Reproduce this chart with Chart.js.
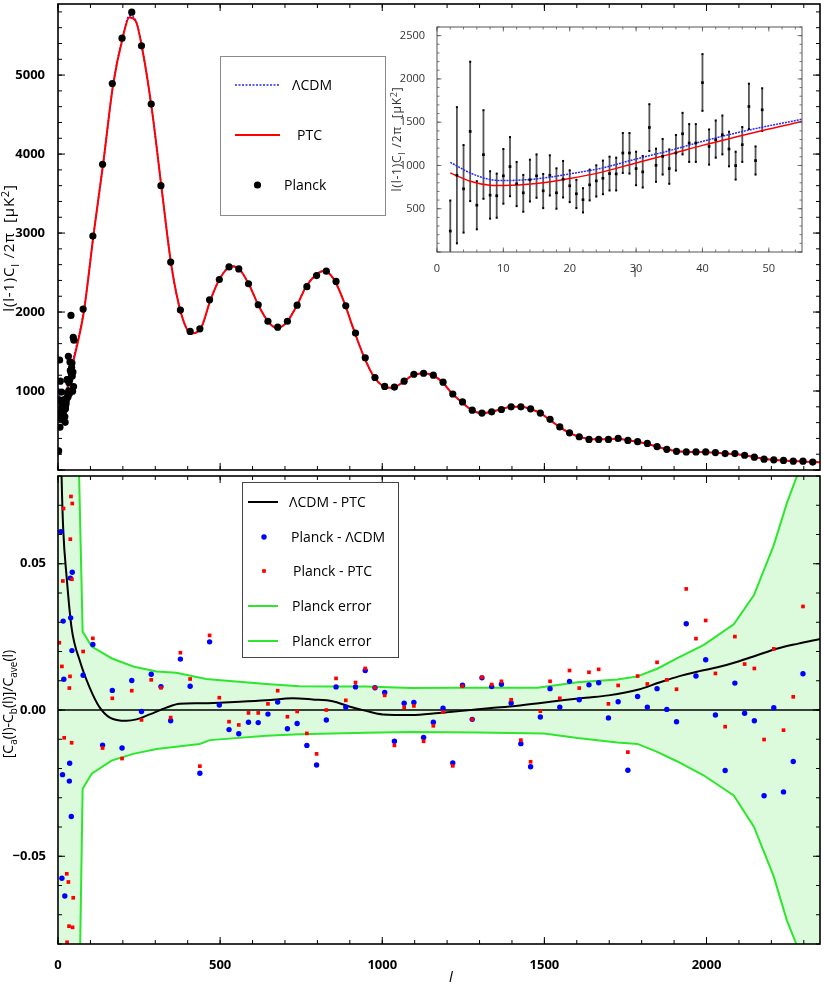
<!DOCTYPE html>
<html>
<head>
<meta charset="utf-8">
<script src="https://cdn.jsdelivr.net/npm/chart.js@4.4.1/dist/chart.umd.min.js"></script>
<style>
  body { margin: 0; background: #fff; }
  #wrap { position: relative; width: 824px; height: 989px; }
  canvas { position: absolute; }
</style>
</head>
<body>
<div id="wrap">
  <canvas id="topChart" width="824" height="474" style="left:0;top:0"></canvas>
  <canvas id="bottomChart" width="824" height="517" style="left:0;top:472px"></canvas>
  <canvas id="insetChart" width="424" height="262" style="left:385px;top:20px"></canvas>
</div>
<script>
// ---- data ----
// tick labels
const xTicks = [0, 500, 1000, 1500, 2000];
const topYTicks = [1000, 2000, 3000, 4000, 5000];
const bottomYTicks = [-0.05, 0, 0.05];
const insetXTicks = [0, 10, 20, 30, 40, 50];
const insetYTicks = [500, 1000, 1500, 2000, 2500];

// unbinned low multipoles (also shown in the inset)
const lowL = [2, 3, 4, 5, 6, 7, 8, 9, 10, 11, 12, 13, 14, 15, 16, 17, 18, 19, 20, 21, 22, 23, 24, 25,
  26, 27, 28, 29, 30, 31, 32, 33, 34, 35, 36, 37, 38, 39, 40, 41, 42, 43, 44, 45, 46, 47, 48, 49];
const lowV = [242, 887, 730, 1393, 541, 1125, 657, 650, 880, 987, 788, 684, 834, 880, 707, 887, 684, 841, 765, 673, 604, 776, 822, 852,
  906, 902, 1144, 1144, 964, 926, 1439, 1002, 1105, 964, 1144, 1366, 1259, 1259, 1957, 1220, 1297, 1355, 1190, 998, 1240, 1681, 1056, 1643];
const lowHi = [595, 1674, 1236, 2199, 818, 1639, 933, 906, 1190, 1328, 1041, 891, 1067, 1128, 902, 1117, 967, 1052, 944, 834, 737, 952, 1002, 1056,
  1102, 1090, 1375, 1375, 1159, 1110, 1708, 1194, 1306, 1186, 1352, 1608, 1478, 1478, 2287, 1416, 1520, 1577, 1390, 1159, 1444, 1945, 1220, 1892];
const lowLo = [-50, 100, 224, 588, 262, 615, 385, 396, 558, 645, 530, 465, 584, 627, 507, 653, 500, 630, 576, 507, 457, 596, 641, 668,
  711, 711, 914, 906, 772, 745, 1167, 811, 895, 788, 941, 1128, 1041, 1041, 1631, 1010, 1090, 1128, 990, 837, 1041, 1421, 895, 1398];

// binned high multipoles
const binL = [77.5, 107.5, 137.5, 167.5, 197.5, 227.5, 257.5, 287.5, 317.5, 347.5, 377.5, 407.5, 437.5, 467.5, 497.5, 527.5,
  557.5, 587.5, 617.5, 647.5, 677.5, 707.5, 737.5, 767.5, 797.5, 827.5, 857.5, 887.5, 917.5, 947.5, 977.5, 1007.5,
  1037.5, 1067.5, 1097.5, 1127.5, 1157.5, 1187.5, 1217.5, 1247.5, 1277.5, 1307.5, 1337.5, 1367.5, 1397.5, 1427.5,
  1457.5, 1487.5, 1517.5, 1547.5, 1577.5, 1607.5, 1637.5, 1667.5, 1697.5, 1727.5, 1757.5, 1787.5, 1817.5, 1847.5,
  1877.5, 1907.5, 1937.5, 1967.5, 1997.5, 2027.5, 2057.5, 2087.5, 2117.5, 2147.5, 2177.5, 2207.5, 2237.5, 2267.5,
  2297.5, 2327.5];
const binV = [2037, 2962, 3871, 4892, 5467, 5796, 5371, 4633, 3600, 2633, 2025, 1754, 1787, 2154, 2412, 2571,
  2546, 2358, 2092, 1883, 1808, 1883, 2087, 2321, 2462, 2517, 2387, 2079, 1733, 1421, 1171, 1058,
  1050, 1125, 1212, 1225, 1200, 1112, 962, 862, 758, 721, 737, 766, 800, 800,
  775, 721, 641, 546, 471, 421, 387, 387, 387, 400, 375, 358, 337, 296,
  262, 237, 229, 229, 229, 221, 208, 208, 187, 162, 137, 129, 121, 112,
  112, 100];

// model spectra
const thL = [2, 5, 8, 10, 15, 20, 25, 30, 35, 40, 45, 50, 55, 80, 110, 140, 170, 200, 220, 240, 260, 290, 320,
  350, 380, 410, 440, 470, 500, 535, 560, 590, 620, 650, 675, 705, 735, 765, 795, 820, 850, 880, 910,
  940, 970, 1000, 1030, 1060, 1090, 1125, 1155, 1185, 1215, 1245, 1275, 1305, 1335, 1365, 1400, 1430, 1455, 1485, 1515,
  1545, 1575, 1605, 1635, 1665, 1695, 1725, 1755, 1785, 1815, 1845, 1875, 1905, 1935, 1965, 1995, 2025, 2055, 2085, 2115,
  2145, 2175, 2205, 2235, 2265, 2295, 2325, 2350];
const thPtc = [914, 818, 772, 768, 791, 849, 926, 1029, 1128, 1232, 1328, 1421, 1508, 2010, 2990, 3900, 4880, 5480, 5730, 5680, 5330, 4550, 3550,
  2580, 1980, 1730, 1790, 2150, 2430, 2580, 2540, 2340, 2070, 1870, 1800, 1870, 2070, 2320, 2470, 2520, 2420, 2150, 1800,
  1470, 1210, 1070, 1040, 1100, 1190, 1225, 1200, 1115, 970, 860, 760, 720, 735, 770, 800, 800, 775, 725, 640,
  550, 475, 422, 395, 388, 390, 395, 380, 358, 335, 298, 265, 240, 230, 228, 226, 220, 210, 203, 188,
  165, 142, 128, 120, 113, 108, 102, 98];
const thLcdm = [1036, 914, 837, 826, 845, 902, 972, 1075, 1171, 1278, 1374, 1458, 1535, 2030, 2995, 3900, 4880, 5490, 5750, 5690, 5330, 4550, 3550,
  2580, 1980, 1730, 1790, 2150, 2430, 2585, 2540, 2340, 2070, 1870, 1800, 1870, 2070, 2320, 2470, 2520, 2420, 2150, 1800,
  1470, 1210, 1070, 1040, 1100, 1190, 1225, 1200, 1115, 970, 860, 760, 720, 735, 770, 800, 800, 775, 725, 640,
  550, 475, 422, 395, 388, 390, 395, 380, 358, 335, 298, 265, 240, 230, 228, 226, 220, 210, 203, 188,
  165, 142, 128, 120, 113, 108, 102, 98];

// relative differences (bottom panel)
const diffL = [2, 6, 11, 16, 27, 42, 68, 98, 129, 160, 211, 242, 283, 334, 375, 437, 498, 560, 642, 724,
  785, 847, 898, 950, 1001, 1090, 1175, 1247, 1329, 1411, 1483, 1555, 1627, 1698, 1791, 1852, 1914, 1975, 2037, 2098,
  2160, 2222, 2283, 2350];
const diffV = [0.14, 0.11, 0.08, 0.062, 0.045, 0.028, 0.0166, 0.0076, 0.0008, -0.0026, -0.0037, -0.0032, -0.0015, 0.0008, 0.0021, 0.0023, 0.0025, 0.0028, 0.0033, 0.004,
  0.0036, 0.003, 0.0012, -0.0003, -0.0015, -0.0017, -0.001, -0.0003, 0.0006, 0.0014, 0.0023, 0.0033, 0.0042, 0.005, 0.007, 0.0093, 0.0115, 0.0132, 0.0147, 0.0166,
  0.0189, 0.0211, 0.0227, 0.0243];
const blueV = [0.0119, 0.0224, -0.012, 0.0067, -0.013, 0.0101, -0.0005, 0.0122, 0.008, -0.0037,
  0.0174, 0.0081, -0.0216, 0.0233, 0.0017, -0.0067, -0.0081, -0.0042, -0.0043, -0.0014,
  0.0027, -0.0064, -0.0046, -0.0121, -0.0188, -0.0034, 0.0079, 0.001, 0.0079, 0.0135,
  0.0076, 0.006, -0.0107, 0.0023, 0.0026, -0.0094, -0.0042, 0.0006, -0.0181, 0.0085,
  -0.0032, 0.011, 0.008, 0.0088, 0.0024, -0.0115, -0.0194, -0.0024, 0.0073, 0.001,
  0.0098, 0.0035, 0.0086, 0.0093, -0.0027, 0.0028, -0.0206, 0.0046, 0.001, 0.0073,
  0.0002, -0.004, 0.0295, 0.0116, 0.0172, -0.0017, -0.0207, 0.0092, -0.0011, -0.0037,
  -0.0293, 0.0008, -0.028, -0.0176, 0.0124, null];
const redV = [0.020, 0.0245, -0.013, 0.004, -0.0166, 0.0066, -0.0034, 0.0103, 0.0076, -0.0026,
  0.0196, 0.0106, -0.0192, 0.0255, 0.0042, -0.004, -0.0051, -0.001, -0.001, 0.0021,
  0.0066, -0.0023, -0.0005, -0.008, -0.015, 0.0, 0.0108, 0.0033, 0.0094, 0.0142,
  0.0076, 0.005, -0.0121, 0.0009, 0.0014, -0.0107, -0.0054, -0.0007, -0.0191, 0.0081,
  -0.0032, 0.0112, 0.0087, 0.0098, 0.0035, -0.0103, -0.0177, -0.0004, 0.0098, 0.004,
  0.0135, 0.0075, 0.0129, 0.0139, 0.0021, 0.0084, -0.0144, 0.0116, 0.0089, 0.0163,
  0.0103, 0.0071, 0.0414, 0.0244, 0.0306, 0.0125, -0.0057, 0.0251, 0.0157, 0.0142,
  -0.0101, 0.0209, -0.0069, 0.0045, 0.0354, null];
const lowBlueL = [9, 16, 38, 44, 39, 43, 18, 36, 14, 35, 41, 12, 21];
const lowBlueV = [0.061, 0.0304, 0.0451, 0.0471, 0.0315, 0.0203, 0.0105, -0.0182, -0.0221, -0.0243, -0.0364, -0.0575, -0.0636];
const lowRedL = [40, 44, 17, 38, 15, 43, 4, 12, 35, 37, 19, 42, 27, 32, 47, 34, 45, 28];
const lowRedV = [0.073, 0.0706, 0.0689, 0.0584, 0.0441, 0.0447, 0.023, 0.0149, 0.0075, 0.0115, -0.0095, -0.0112, -0.056, -0.0588, -0.0642, -0.0739, -0.0743, -0.0794];

// Planck error envelope
const errUpL = [2, 63, 76, 104, 165, 232, 304, 365, 457, 539, 642, 745, 847, 950, 1089, 1222, 1479, 1602, 1725, 1787,
  1848, 1910, 1992, 2084, 2146, 2207, 2248, 2279, 2350];
const errUpV = [2.0, 0.09, 0.0268, 0.0217, 0.0177, 0.0149, 0.0132, 0.0127, 0.0106, 0.0098, 0.0089, 0.0081, 0.008, 0.008, 0.0075, 0.0076, 0.0076, 0.0095, 0.0104, 0.0115,
  0.0141, 0.0177, 0.0223, 0.0293, 0.0392, 0.0562, 0.0708, 0.08, 0.13];
const errLoL = [2, 67, 76, 104, 165, 232, 304, 437, 468, 539, 642, 745, 847, 950, 1089, 1294, 1499, 1602, 1725, 1787,
  1848, 1910, 1992, 2084, 2146, 2207, 2248, 2277, 2350];
const errLoV = [-2.0, -0.09, -0.0269, -0.0218, -0.0173, -0.015, -0.0133, -0.0116, -0.0103, -0.0097, -0.0088, -0.0083, -0.008, -0.0078, -0.0075, -0.0077, -0.008, -0.0096, -0.0111, -0.0116,
  -0.0143, -0.0176, -0.0224, -0.0292, -0.0399, -0.0568, -0.072, -0.08, -0.13];

// ---- helpers & plugins ----
function xy(xs, ys) {
  return xs.map((x, i) => ({ x: x, y: ys[i] }));
}

function fixedTicks(values) {
  return s => { s.ticks = values.map(v => ({ value: v })); };
}

// pin the axis box size and drop the label overflow padding
function fitAxis(size) {
  return s => {
    if (s.isHorizontal()) s.height = size; else s.width = size;
    s.paddingTop = 0; s.paddingBottom = 0; s.paddingLeft = 0; s.paddingRight = 0;
  };
}

Chart.defaults.font.family = "'Open Sans', sans-serif";
Chart.defaults.color = '#000';

const frameTicks = {
  id: 'frameTicks',
  afterDatasetsDraw(chart, args, o) {
    const ctx = chart.ctx, a = chart.chartArea;
    const xs = chart.scales.x, ys = chart.scales.y;
    ctx.save();
    ctx.strokeStyle = o.color;
    ctx.lineWidth = o.tickWidth;
    const marks = (scale, step, len, horiz) => {
      const n0 = Math.ceil(scale.min / step - 1e-6), n1 = Math.floor(scale.max / step + 1e-6);
      for (let n = n0; n <= n1; n++) {
        const p = scale.getPixelForValue(n * step);
        ctx.beginPath();
        if (horiz) {
          ctx.moveTo(p, a.bottom); ctx.lineTo(p, a.bottom - len);
          ctx.moveTo(p, a.top); ctx.lineTo(p, a.top + len);
        } else {
          ctx.moveTo(a.left, p); ctx.lineTo(a.left + len, p);
          ctx.moveTo(a.right, p); ctx.lineTo(a.right - len, p);
        }
        ctx.stroke();
      }
    };
    marks(xs, o.xMinor, o.minorLen, true);
    marks(xs, o.xMajor, o.majorLen, true);
    marks(ys, o.yMinor, o.minorLen, false);
    marks(ys, o.yMajor, o.majorLen, false);
    ctx.lineWidth = o.frameWidth;
    ctx.strokeStyle = o.frameColor;
    ctx.strokeRect(a.left, a.top, a.right - a.left, a.bottom - a.top);
    ctx.restore();
  }
};

const boxLegend = {
  id: 'boxLegend',
  afterDraw(chart, args, o) {
    if (!o.box) return;
    const ctx = chart.ctx;
    const bx = o.box[0], by = o.box[1], bw = o.box[2], bh = o.box[3];
    ctx.save();
    ctx.fillStyle = '#fff';
    ctx.fillRect(bx, by, bw, bh);
    ctx.strokeStyle = o.borderColor;
    ctx.lineWidth = 1;
    ctx.strokeRect(bx + 0.5, by + 0.5, bw, bh);
    ctx.font = o.font;
    ctx.textBaseline = 'middle';
    chart.data.datasets.forEach(ds => {
      if (ds.legendRow === undefined) return;
      const y = o.rows[ds.legendRow];
      if (ds.showLine === false) {
        ctx.fillStyle = ds.pointBackgroundColor;
        const r = ds.pointRadius;
        if (ds.pointStyle === 'rect') {
          ctx.fillRect(o.markX - r * 0.71, y - r * 0.71, r * 1.42, r * 1.42);
        } else {
          ctx.beginPath(); ctx.arc(o.markX, y, r, 0, Math.PI * 2); ctx.fill();
        }
      } else {
        ctx.strokeStyle = ds.borderColor;
        ctx.lineWidth = ds.borderWidth;
        ctx.setLineDash(ds.borderDash || []);
        ctx.beginPath(); ctx.moveTo(o.lineX[0], y); ctx.lineTo(o.lineX[1], y); ctx.stroke();
        ctx.setLineDash([]);
      }
      ctx.fillStyle = '#000';
      ctx.fillText(ds.label, o.textX[ds.legendRow], y + 1);
    });
    ctx.restore();
  }
};

// axis titles with sub/superscripts
const richTitles = {
  id: 'richTitles',
  afterDraw(chart, args, o) {
    const ctx = chart.ctx;
    (o.items || []).forEach(t => {
      const fam = "'Open Sans', sans-serif";
      const fontFor = m => (t.italic ? 'italic ' : '') + (m === 'n' ? t.size : Math.round(t.size * 0.72)) + 'px ' + fam;
      const parts = t.parts.map(p => typeof p === 'string' ? { s: p, m: 'n' } : { s: p[0], m: p[1] });
      ctx.save();
      if ('letterSpacing' in ctx) ctx.letterSpacing = (t.spacing || 0) + 'px';
      let total = 0;
      parts.forEach(p => { ctx.font = fontFor(p.m); p.w = ctx.measureText(p.s).width; total += p.w; });
      ctx.translate(t.x, t.y);
      if (t.rotate) ctx.rotate(-Math.PI / 2);
      ctx.fillStyle = t.color || '#000';
      ctx.textBaseline = 'alphabetic';
      let cx = -total / 2;
      const base = t.size * 0.36;
      parts.forEach(p => {
        ctx.font = fontFor(p.m);
        const dy = p.m === 'sub' ? t.size * 0.28 : (p.m === 'sup' ? -t.size * 0.38 : 0);
        ctx.fillText(p.s, cx, base + dy);
        cx += p.w;
      });
      ctx.restore();
    });
  }
};

const errorBars = {
  id: 'errorBars',
  beforeDatasetsDraw(chart, args, o) {
    if (!o.enabled) return;
    const ctx = chart.ctx, a = chart.chartArea, x = chart.scales.x, y = chart.scales.y;
    ctx.save();
    ctx.beginPath(); ctx.rect(a.left, a.top, a.right - a.left, a.bottom - a.top); ctx.clip();
    lowL.forEach((l, i) => {
      const px = x.getPixelForValue(l), y0 = y.getPixelForValue(lowLo[i]), y1 = y.getPixelForValue(lowHi[i]);
      ctx.strokeStyle = o.color; ctx.lineWidth = o.width;
      ctx.beginPath(); ctx.moveTo(px, y0); ctx.lineTo(px, y1); ctx.stroke();
      ctx.fillStyle = o.capColor;
      ctx.fillRect(px - 1, y0 - 1, 2, 2);
      ctx.fillRect(px - 1, y1 - 1, 2, 2);
    });
    ctx.restore();
  }
};

const zeroLine = {
  id: 'zeroLine',
  afterDatasetDraw(chart, args, o) {
    if (o.after === undefined || args.index !== o.after) return;
    const ctx = chart.ctx, a = chart.chartArea;
    const py = chart.scales.y.getPixelForValue(0);
    ctx.save();
    ctx.strokeStyle = '#000'; ctx.lineWidth = 1.4;
    ctx.beginPath(); ctx.moveTo(a.left, py); ctx.lineTo(a.right, py); ctx.stroke();
    ctx.restore();
  }
};

const tickFont = { size: 13, weight: 'bold' };

// ---- top panel ----
new Chart(document.getElementById('topChart'), {
  type: 'line',
  data: {
    datasets: [
      { label: 'Planck', data: xy(lowL.concat(binL), lowV.concat(binV)), showLine: false,
        pointRadius: 3.6, pointBackgroundColor: '#000', pointBorderWidth: 0, order: 1, legendRow: 2, clip: 0 },
      { label: 'PTC', data: xy(thL, thPtc), borderColor: '#ff0000', borderWidth: 2, pointRadius: 0,
        cubicInterpolationMode: 'monotone', order: 2, legendRow: 1, clip: 0 },
      { label: 'ΛCDM', data: xy(thL, thLcdm), borderColor: '#2828ff', borderWidth: 1.6, borderDash: [2, 1.5],
        pointRadius: 0, cubicInterpolationMode: 'monotone', order: 3, legendRow: 0, clip: 0 }
    ]
  },
  options: {
    responsive: false,
    animation: false,
    events: [],
    layout: { padding: { left: 0, right: 2, top: 1, bottom: 1 } },
    scales: {
      x: { type: 'linear', min: 0, max: 2350, bounds: 'data', display: false },
      y: {
        type: 'linear', min: 0, max: 5900, bounds: 'data',
        grid: { display: false }, border: { display: false },
        afterBuildTicks: fixedTicks(topYTicks),
        ticks: { autoSkip: false, font: tickFont, padding: 5, callback: v => String(v) },
        afterFit: fitAxis(58)
      }
    },
    plugins: {
      legend: { display: false },
      tooltip: { enabled: false },
      frameTicks: { xMinor: 100, xMajor: 500, yMinor: 200, yMajor: 1000, minorLen: 4, majorLen: 7,
        color: '#000', tickWidth: 1, frameWidth: 1.6, frameColor: '#000' },
      boxLegend: { box: [220, 56, 165, 159], borderColor: '#8a8a8a', font: "14px 'Open Sans', sans-serif",
        rows: [85, 135, 185], lineX: [235, 280], markX: 257.5, textX: [292, 297, 284] },
      richTitles: { items: [
        { x: 9, y: 248, rotate: true, size: 15, spacing: 0.8, parts: ['l(l-1)C', ['l', 'sub'], ' /2π  [μK', ['2', 'sup'], ']'] }
      ] }
    }
  },
  plugins: [frameTicks, boxLegend, richTitles]
});

// ---- bottom panel ----
new Chart(document.getElementById('bottomChart'), {
  type: 'line',
  data: {
    datasets: [
      { label: 'ΛCDM - PTC', data: xy(diffL, diffV), borderColor: '#000', borderWidth: 2, pointRadius: 0,
        cubicInterpolationMode: 'monotone', order: 3, legendRow: 0, clip: 0 },
      { label: 'Planck - ΛCDM', data: xy(binL, blueV), showLine: false, pointRadius: 2.7,
        pointBackgroundColor: '#0000ff', pointBorderWidth: 0, order: 2, legendRow: 1, clip: 0 },
      { label: 'Planck - PTC', data: xy(binL, redV), showLine: false, pointStyle: 'rect', pointRadius: 2.6,
        pointBackgroundColor: '#ff0000', pointBorderWidth: 0, order: 1, legendRow: 2, clip: 0 },
      { label: 'Planck error', data: xy(errUpL, errUpV), borderColor: '#2ee62e', borderWidth: 2, pointRadius: 0,
        tension: 0, fill: '+1', backgroundColor: '#dcfadc', order: 6, legendRow: 3, clip: 0 },
      { label: 'Planck error', data: xy(errLoL, errLoV), borderColor: '#2ee62e', borderWidth: 2, pointRadius: 0,
        tension: 0, order: 5, legendRow: 4, clip: 0 },
      { label: 'low-l Planck - ΛCDM', data: xy(lowBlueL, lowBlueV), showLine: false, pointRadius: 2.7,
        pointBackgroundColor: '#0000ff', pointBorderWidth: 0, order: 2, clip: 0 },
      { label: 'low-l Planck - PTC', data: xy(lowRedL, lowRedV), showLine: false, pointStyle: 'rect', pointRadius: 2.6,
        pointBackgroundColor: '#ff0000', pointBorderWidth: 0, order: 1, clip: 0 }
    ]
  },
  options: {
    responsive: false,
    animation: false,
    events: [],
    layout: { padding: { left: 0, right: 2, top: 1, bottom: 0 } },
    scales: {
      x: {
        type: 'linear', min: 0, max: 2350, bounds: 'data',
        grid: { display: false }, border: { display: false },
        afterBuildTicks: fixedTicks(xTicks),
        ticks: { autoSkip: false, maxRotation: 0, font: tickFont, padding: 5, callback: v => String(v) },
        afterFit: fitAxis(45)
      },
      y: {
        type: 'linear', min: -0.08, max: 0.08, bounds: 'data',
        grid: { display: false }, border: { display: false },
        afterBuildTicks: fixedTicks(bottomYTicks),
        ticks: { autoSkip: false, font: tickFont, padding: 4,
          callback: v => Math.abs(v) < 1e-9 ? '0.00' : (v < 0 ? '\u2212' : '') + Math.abs(v).toFixed(2) },
        afterFit: fitAxis(58)
      }
    },
    plugins: {
      legend: { display: false },
      tooltip: { enabled: false },
      filler: { propagate: false },
      zeroLine: { after: 4 },
      frameTicks: { xMinor: 100, xMajor: 500, yMinor: 0.01, yMajor: 0.05, minorLen: 4, majorLen: 7,
        color: '#000', tickWidth: 1, frameWidth: 1.6, frameColor: '#000' },
      boxLegend: { box: [242, 10, 156, 175], borderColor: '#444', font: "14px 'Open Sans', sans-serif",
        rows: [30, 65, 99, 134, 169], lineX: [248, 278], markX: 264, textX: [289, 291, 293, 292, 292] },
      richTitles: { items: [
        { x: 8, y: 232, rotate: true, size: 14,
          parts: ['[C', ['a', 'sub'], '(l)-C', ['b', 'sub'], '(l)]/C', ['ave', 'sub'], '(l)'] },
        { x: 451, y: 505, size: 15, italic: true, parts: ['l'] }
      ] }
    }
  },
  plugins: [frameTicks, boxLegend, richTitles, zeroLine]
});

// ---- inset ----
new Chart(document.getElementById('insetChart'), {
  type: 'line',
  data: {
    datasets: [
      { label: 'Planck', data: xy(lowL, lowV), showLine: false, pointStyle: 'rect', pointRadius: 1.9,
        pointBackgroundColor: '#000', pointBorderWidth: 0, order: 1, clip: 0 },
      { label: 'ΛCDM', data: xy(thL, thLcdm), borderColor: '#2828ff', borderWidth: 1.5, borderDash: [2, 1],
        pointRadius: 0, cubicInterpolationMode: 'monotone', order: 2, clip: 0 },
      { label: 'PTC', data: xy(thL, thPtc), borderColor: '#ff0000', borderWidth: 1.5, pointRadius: 0,
        cubicInterpolationMode: 'monotone', order: 3, clip: 0 }
    ]
  },
  options: {
    responsive: false,
    animation: false,
    events: [],
    layout: { padding: { left: 0, right: 7, top: 7, bottom: 0 } },
    scales: {
      x: {
        type: 'linear', min: 0, max: 55, bounds: 'data',
        grid: { display: false }, border: { display: false },
        afterBuildTicks: fixedTicks(insetXTicks),
        ticks: { autoSkip: false, maxRotation: 0, color: '#333', font: { size: 11 }, padding: 2,
          callback: v => String(v) },
        afterFit: fitAxis(30)
      },
      y: {
        type: 'linear', min: 0, max: 2600, bounds: 'data',
        grid: { display: false }, border: { display: false },
        afterBuildTicks: fixedTicks(insetYTicks),
        ticks: { autoSkip: false, color: '#333', font: { size: 11 }, padding: 4, callback: v => String(v) },
        afterFit: fitAxis(52)
      }
    },
    plugins: {
      legend: { display: false },
      tooltip: { enabled: false },
      errorBars: { enabled: true, color: '#555', width: 1.8, capColor: '#000' },
      frameTicks: { xMinor: 2, xMajor: 10, yMinor: 100, yMajor: 500, minorLen: 2.5, majorLen: 4.5,
        color: '#555', tickWidth: 0.8, frameWidth: 1, frameColor: '#555' },
      richTitles: { items: [
        { x: 12, y: 119, rotate: true, size: 12, spacing: 0.8, color: '#333', parts: ['l(l-1)C', ['l', 'sub'], ' /2π  [μK', ['2', 'sup'], ']'] },
        { x: 250, y: 253, size: 12, color: '#333', parts: ['l'] }
      ] }
    }
  },
  plugins: [errorBars, frameTicks, richTitles]
});
</script>
</body>
</html>
